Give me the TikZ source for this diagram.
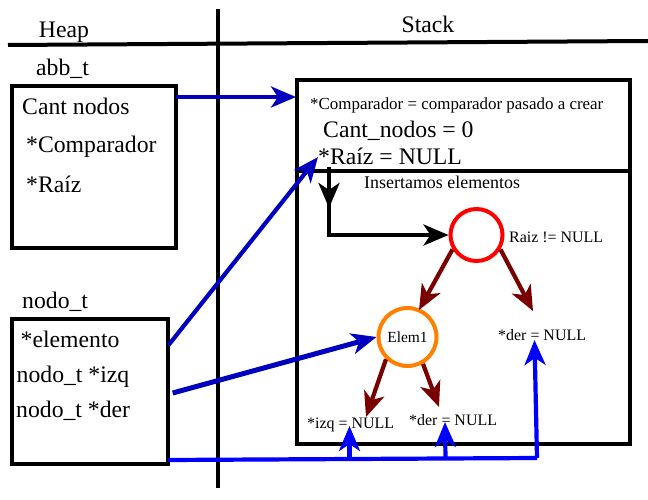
\documentclass[tikz,border=0pt]{standalone}
\usepackage{fontspec}
\setmainfont{Liberation Serif}
\usetikzlibrary{arrows.meta}
\definecolor{dblue}{RGB}{0,0,190}
\definecolor{bblue}{RGB}{0,0,255}
\definecolor{dred}{RGB}{120,0,0}
\definecolor{orng}{RGB}{255,128,0}
\definecolor{rred}{RGB}{255,0,0}
\tikzset{
  big/.style={font=\fontsize{23.8}{28}\selectfont, inner sep=0pt, anchor=base west},
  mid/.style={font=\fontsize{18}{21}\selectfont, inner sep=0pt, anchor=base west},
  sml/.style={font=\fontsize{16}{19}\selectfont, inner sep=0pt, anchor=base west},
  boxline/.style={draw, line width=4.5bp},
  arr/.style={-{Stealth[length=25bp,width=21bp,inset=7bp]}, line width=4.2bp},
  circ/.style={circle, draw, line width=4bp, inner sep=0pt, fill=white},
}
\begin{document}
\begin{tikzpicture}[x=1bp,y=-1bp]
\useasboundingbox (0,0) rectangle (648,500);
% frame lines
\draw[line width=3.5bp] (218,9) -- (218,488);
\draw[line width=4bp] (8,45) -- (648,41);
\node[big, anchor=base] (heap) at (64,38) {Heap};
\node[big, anchor=base] (stack) at (428,33) {Stack};
% abb_t
\node[big] (abbt) at (36,76) {abb\_t};
\draw[boxline] (12,86) rectangle (176,248);
\coordinate (abbR) at (176,97);
\node[big] (cant) at (22,115) {Cant nodos};
\node[big] (comp) at (26,153) {*Comparador};
\node[big] (raiz) at (26,193) {*Raíz};
% nodo_t
\node[big] (nodot) at (22,308) {nodo\_t};
\draw[boxline] (12,319) rectangle (168,464);
\node[big] (elem) at (20.5,347) {*elemento};
\node[big] (izq) at (16.5,382) {nodo\_t *izq};
\node[big] (der) at (16,417) {nodo\_t *der};
% stack box
\draw[boxline] (297,80) rectangle (630,444);
\draw[line width=3.5bp] (297,171) -- (630,171);
\node[mid, font=\fontsize{17}{20}\selectfont] (compeq) at (310,110) {*Comparador = comparador pasado a crear};
\node[big] (cantn) at (323,138) {Cant\_nodos = 0};
\node[big] (raizn) at (318,165) {*Raíz = NULL};
\node[mid] (ins) at (364,189) {Insertamos elementos};
% tree
\node[circ, draw=rred, minimum size=52bp] (root) at (476.5,235) {};
\node[sml] (rnn) at (509,243) {Raiz != NULL};
\node[circ, draw=orng, minimum size=58bp, font=\fontsize{15.5}{18}\selectfont] (e1) at (407.5,337) {Elem1};
\node[sml] (derR) at (498,340) {*der = NULL};
\node[sml] (izqL) at (307,428) {*izq = NULL};
\node[sml] (derL) at (409,425) {*der = NULL};
% black arrows
\coordinate (bs) at (329,167);
\coordinate (bm) at (329,208);
\coordinate (bm2) at (329,200);
\draw[arr] (bs) -- (bm);
\draw[arr] (bm2) |- (root.west);
% dark red arrows
\coordinate (tL) at (419,310);
\coordinate (tR) at (533,311);
\coordinate (tLL) at (366,417);
\coordinate (tLR) at (439,407);
\draw[arr, dred] (root.211) -- (tL);
\draw[arr, dred] (root.329) -- (tR);
\draw[arr, dred] (e1.226) -- (tLL);
\draw[arr, dred] (e1.300) -- (tLR);
% dark blue arrows
\coordinate (stL) at (296,97);
\coordinate (elS) at (168.6,345);
\coordinate (rzT) at (318,157);
\coordinate (izS) at (172.7,393);
\draw[arr, dblue] (abbR) -- (stL);
\draw[arr, dblue] (elS) -- (rzT);
\draw[arr, dblue, line width=5bp] (izS) -- (e1.west);
% bright blue
\coordinate (b0) at (168,460);
\coordinate (b1) at (537,458);
\coordinate (b1t) at (534.5,340);
\coordinate (bi0) at (349.5,459.5);
\coordinate (bi1) at (349.5,426);
\coordinate (bd0) at (445.5,459);
\coordinate (bd1) at (445,422);
\draw[line width=4.2bp, bblue] (b0) -- (b1);
\draw[arr, bblue] (b1) -- (b1t);
\draw[arr, bblue] (bi0) -- (bi1);
\draw[arr, bblue] (bd0) -- (bd1);
\end{tikzpicture}
\end{document}
